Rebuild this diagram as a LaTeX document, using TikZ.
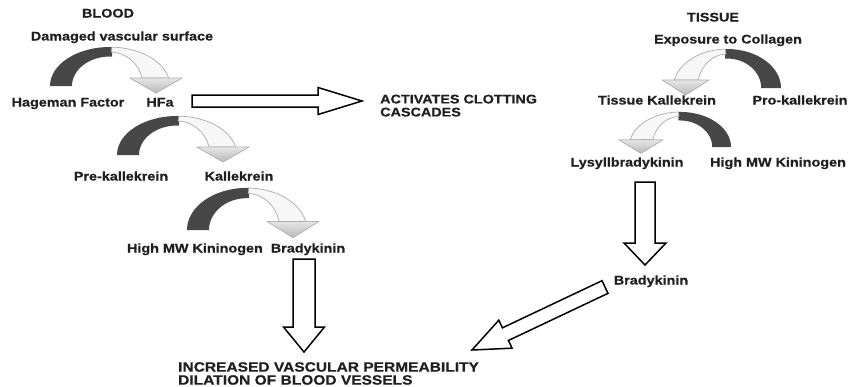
\documentclass[tikz,border=0pt]{standalone}
\usepackage{fontspec}
\setmainfont{Liberation Sans}[FakeStretch=1.15,BoldFeatures={FakeBold=0.5}]
\usetikzlibrary{calc}
\newcommand\blockarrow[5]{%
  \draw[barrow] ($(#1)!#3!90:(#2)$) -- ($($(#2)!#5!(#1)$)!#3!90:(#2)$)
    -- ($($(#2)!#5!(#1)$)!#4!90:(#2)$) -- (#2)
    -- ($($(#2)!#5!(#1)$)!#4!-90:(#2)$) -- ($($(#2)!#5!(#1)$)!#3!-90:(#2)$)
    -- ($(#1)!#3!-90:(#2)$) -- cycle;}
\tikzset{
  lbl/.style={font=\bfseries\fontsize{12.5}{13}\selectfont, text=black!88, inner sep=0pt, text height=9pt, text depth=0pt},
  big/.style={font=\bfseries\fontsize{13.5}{13}\selectfont, text=black!88, align=left, inner sep=0pt},
  act/.style={font=\bfseries\fontsize{12.5}{13}\selectfont, text=black!88, align=left, inner sep=0pt},
  barrow/.style={draw=black, line width=1.5pt, fill=white, line join=miter},
  darkband/.style={fill=black!72},
  lightband/.style={draw=gray!65, line width=0.7pt, fill=gray!6},
  headfill/.style={draw=gray!60, line width=0.6pt, top color=gray!20, bottom color=gray!55},
  curv/.pic={
    \fill[darkband] (-60,0) arc[start angle=180,end angle=90,x radius=60pt,y radius=39pt]
      -- (2,38.9) -- (2,29.5) -- (0,29.5) arc[start angle=90,end angle=180,x radius=38pt,y radius=29.5pt] -- cycle;
    \filldraw[lightband] (2,38.9) arc[start angle=88,end angle=11.8,x radius=60pt,y radius=39pt]
      -- (32.07,8) arc[start angle=13.6,end angle=88,x radius=33pt,y radius=34pt] -- cycle;
    \filldraw[headfill] (20,8) -- (72,8) -- (46,-7) -- cycle;
  }
}
\begin{document}
\begin{tikzpicture}[x=1pt,y=1pt]
\fill[white] (0,0) rectangle (848,-386);
\useasboundingbox (0,0) rectangle (848,-386);

% headings and labels
\node[lbl] (blood) at (108,-13) {BLOOD};
\node[lbl] (tissue) at (713,-17) {TISSUE};
\node[lbl] (dvs) at (122,-36) {Damaged vascular surface};
\node[lbl] (ecol) at (728,-39) {Exposure to Collagen};
\node[lbl] (hf) at (68,-102) {Hageman Factor};
\node[lbl] (hfa) at (160,-102) {HFa};
\node[lbl] (tk) at (657,-100) {Tissue Kallekrein};
\node[lbl] (prok) at (800,-100) {Pro-kallekrein};
\node[lbl] (prek) at (121,-176) {Pre-kallekrein};
\node[lbl] (kall) at (239,-176) {Kallekrein};
\node[lbl] (lys) at (627,-162) {Lysyllbradykinin};
\node[lbl] (hmwk2) at (778,-162) {High MW Kininogen};
\node[lbl,anchor=east] (hmwk1) at (263,-248) {High MW Kininogen};
\node[lbl] (brady1) at (308,-248) {Bradykinin};
\node[lbl] (brady2) at (651,-280) {Bradykinin};
\node[act,anchor=north west] (act) at (380,-94.5) {ACTIVATES CLOTTING\\CASCADES};
\node[big,anchor=north west] (inc) at (178,-362) {INCREASED VASCULAR PERMEABILITY\\DILATION OF BLOOD VESSELS};

% curved conversion arrows
\pic at (110,-86) {curv};
\pic at (177,-155) {curv};
\pic[yscale=1.08] at (247,-230) {curv};
\pic[xscale=-0.9] at (727,-88) {curv};
\pic[xscale=-0.85,yscale=0.9] at (680,-147) {curv};

% block arrows
\coordinate (h1) at (192,-101);
\coordinate (h2) at (362,-101);
\coordinate (d1a) at (304,-259);
\coordinate (d1b) at (304,-352);
\coordinate (d2a) at (645,-182);
\coordinate (d2b) at (645,-265);
\coordinate (g1) at (605,-287);
\coordinate (g2) at (472,-350);
\blockarrow{h1}{h2}{6pt}{13.5pt}{44pt}
\blockarrow{d1a}{d1b}{11pt}{20.5pt}{25pt}
\blockarrow{d2a}{d2b}{10pt}{21pt}{22pt}
\blockarrow{g1}{g2}{7pt}{15.5pt}{37pt}
\end{tikzpicture}
\end{document}
